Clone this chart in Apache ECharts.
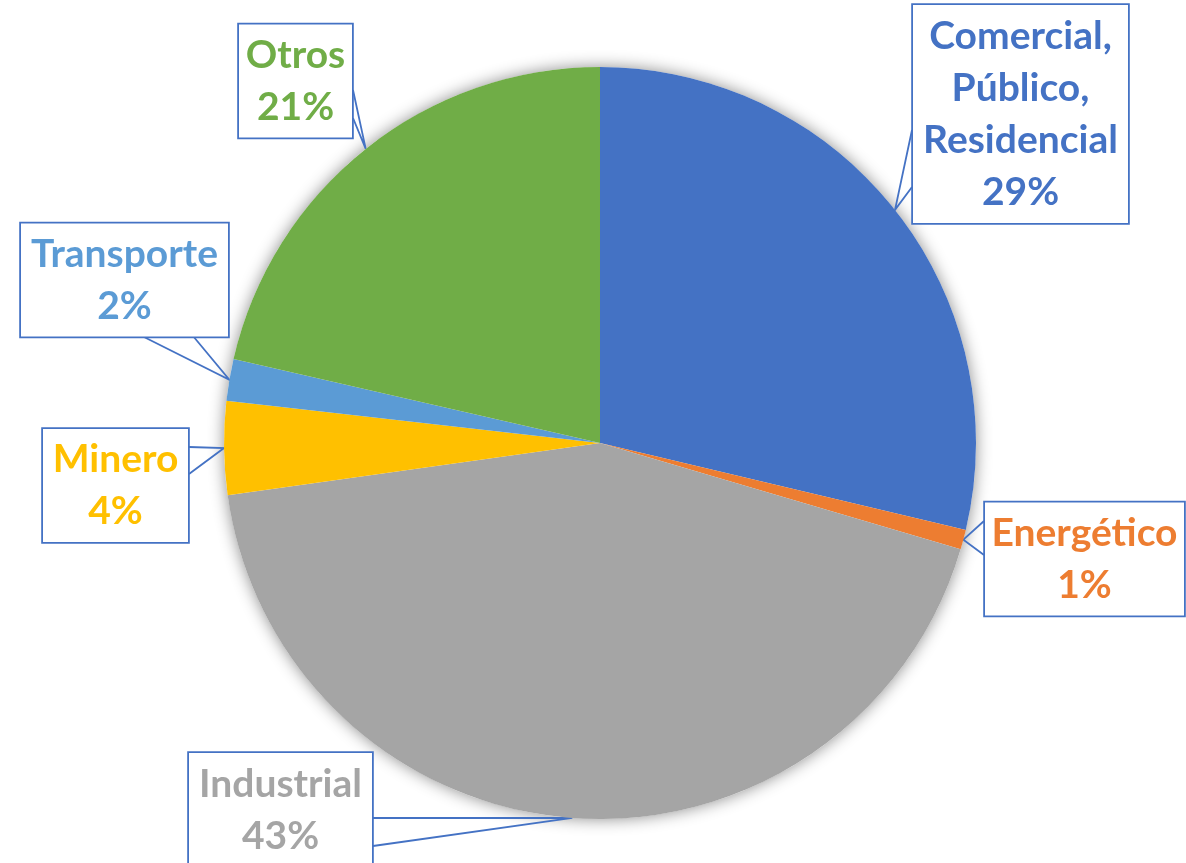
<!DOCTYPE html>
<html><head><meta charset="utf-8">
<script src="https://cdn.jsdelivr.net/npm/echarts@6/dist/echarts.min.js"></script>
<style>html,body{margin:0;padding:0;background:#fff}#c{width:1186px;height:863px}</style>
</head><body><div id="c"></div>
<script>
// ---- data ----
const categories = ['Comercial, Público, Residencial', 'Energético', 'Industrial', 'Minero', 'Transporte', 'Otros'];
const values = [28.7, 0.85, 43.2, 4.0, 1.8, 21.4];
const colors = ['#4472C4', '#ED7D31', '#A5A5A5', '#FFC000', '#5B9BD5', '#70AD47'];

// ---- callout box layout (label positions, not data) ----
const callouts = [
  { cx: 1020.5, cy: 114,   w: 217, pad: [5, 0, 5, 0], base: [[912, 130], [912, 187]] },
  { cx: 1084.5, cy: 559,   w: 201, pad: [5, 0, 4, 0], base: [[984, 521], [984, 555]] },
  { cx: 280.5,  cy: 810,   w: 185, pad: [5, 0, 5, 0], base: [[373, 818], [373, 846]] },
  { cx: 115.5,  cy: 485.5, w: 147, pad: [5, 0, 4, 0], base: [[189, 447], [189, 474]] },
  { cx: 124.5,  cy: 280,   w: 209, pad: [5, 0, 4, 0], base: [[142, 336], [193, 336]] },
  { cx: 295.5,  cy: 81,    w: 115, pad: [5, 0, 4, 0], base: [[353, 90],  [353, 118]] }
];
const boxBorder = '#4472C4';
const CENTER = [600, 443];
const RADIUS = 376;

const chart = echarts.init(document.getElementById('c'), null, { renderer: 'canvas' });

const pieData = categories.map((name, i) => ({
  name: name,
  value: values[i],
  itemStyle: { color: colors[i] },
  label: {
    color: colors[i],
    width: callouts[i].w - 2,
    padding: callouts[i].pad
  }
}));

function tipFor(idx) {
  const total = values.reduce((a, b) => a + b, 0);
  let acc = 0;
  for (let k = 0; k < idx; k++) acc += values[k];
  const mid = (acc + values[idx] / 2) / total * 2 * Math.PI;
  return [CENTER[0] + RADIUS * Math.sin(mid), CENTER[1] - RADIUS * Math.cos(mid)];
}

chart.setOption({
  backgroundColor: '#ffffff',
  animation: false,
  series: [
    {
      type: 'pie',
      silent: true,
      z: 1,
      center: CENTER,
      radius: RADIUS,
      label: { show: false },
      labelLine: { show: false },
      itemStyle: { color: '#ffffff', shadowBlur: 16, shadowColor: 'rgba(0,0,0,0.45)' },
      data: [{ value: 1, name: '' }]
    },
    {
      type: 'pie',
      z: 2,
      center: CENTER,
      radius: RADIUS,
      startAngle: 90,
      clockwise: true,
      avoidLabelOverlap: false,
      itemStyle: { borderWidth: 0 },
      label: {
        show: true,
        position: 'outside',
        fontFamily: 'Lato',
        fontWeight: 'bold',
        fontSize: 39,
        lineHeight: 52,
        align: 'center',
        backgroundColor: '#ffffff',
        borderColor: boxBorder,
        borderWidth: 1.8,
        formatter: p => p.name.replace(/, /g, ',\n') + '\n' + Math.round(p.percent) + '%'
      },
      labelLine: { show: true, lineStyle: { color: boxBorder, width: 1.8 }, length: 10, length2: 10 },
      labelLayout: function (params) {
        const c = callouts[params.dataIndex];
        let tip = (params.labelLinePoints && params.labelLinePoints[0]) ? params.labelLinePoints[0] : tipFor(params.dataIndex);
        return {
          x: c.cx,
          y: c.cy,
          align: 'center',
          verticalAlign: 'middle',
          labelLinePoints: [c.base[0], tip, c.base[1]]
        };
      },
      data: pieData
    }
  ]
});
</script>
</body></html>
